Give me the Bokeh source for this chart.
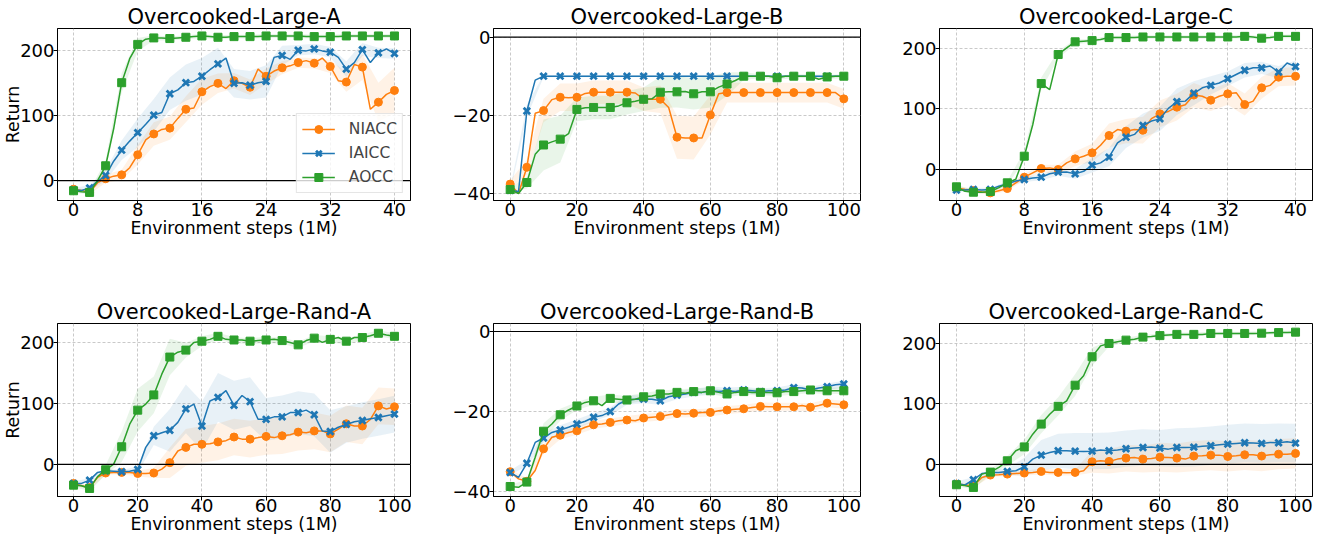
from bokeh.plotting import figure
from bokeh.models import FixedTicker, Range1d, Span, Legend, LegendItem
from bokeh.layouts import row, column
from bokeh.embed import file_html
from bokeh.resources import INLINE

# ---------------- data ----------------
SERIES = ["NIACC", "IAICC", "AOCC"]
COLORS = {"NIACC": "#ff7f0e", "IAICC": "#1f77b4", "AOCC": "#2ca02c"}
MARKERS = {"NIACC": "circle", "IAICC": "x", "AOCC": "square"}

X40 = [i * 1.0 for i in range(41)]          # steps (1M), 0..40
X100 = [i * 2.5 for i in range(41)]         # steps (1M), 0..100
XTICK40 = [0, 8, 16, 24, 32, 40]
XTICK100 = [0, 20, 40, 60, 80, 100]
YTICK_POS = [0, 100, 200]
YTICK_NEG = [-40, -20, 0]

TITLES = ["Overcooked-Large-A", "Overcooked-Large-B", "Overcooked-Large-C",
          "Overcooked-Large-Rand-A", "Overcooked-Large-Rand-B", "Overcooked-Large-Rand-C"]

# --- Overcooked-Large-A ---
A_NIACC = [-13, -15, -18, -3, 3, 7, 9, 20, 40, 63, 72, 79, 81, 96, 110, 112, 137, 145, 150, 142,
           154, 150, 144, 172, 161, 169, 174, 177, 182, 185, 181, 189, 176, 154, 152, 179, 175, 110,
           121, 133, 139]
A_IAICC = [-14, -15, -11, -1, 8, 30, 47, 61, 74, 87, 101, 105, 134, 140, 151, 153, 161, 171, 180,
           189, 150, 151, 147, 151, 153, 190, 193, 187, 201, 200, 203, 200, 198, 190, 172, 182, 202,
           182, 197, 203, 196]
A_AOCC = [-15.5, -17, -18, 0, 23, 80, 151, 188, 210, 218, 220, 220, 219, 220, 221, 222, 223, 222,
          221, 221, 222, 222, 222, 222, 223, 223, 223, 223, 223, 222, 222, 222, 222, 222, 223, 223,
          223, 223, 223, 223, 223]
A_NIACC_SD = [3, 3, 6, 8, 15, 18, 18, 20, 20, 15, 12, 12, 12, 10, 8, 8, 10, 15, 20, 30, 35]
A_IAICC_SD = [3, 4, 8, 15, 22, 25, 25, 28, 28, 25, 22, 22, 25, 15, 8, 8, 8, 12, 10, 8, 8]
A_AOCC_SD = [3, 3, 8, 15, 10, 4, 3, 3, 3, 3, 3, 3, 3, 3, 3, 3, 3, 3, 3, 3, 3]

# --- Overcooked-Large-B ---
B_NIACC = [-37.6, -40, -33.3, -19.5, -18.8, -16, -15.4, -15.5, -15.4, -14.4, -14.1, -14.1, -14.1,
           -14.1, -14.1, -14.3, -15.9, -15.9, -15.9, -18, -25.6, -25.8, -25.8, -25.8, -19.9, -14.5,
           -14.2, -14.2, -14.2, -14.2, -14.2, -14.2, -14.2, -14.2, -14.2, -14.2, -14.2, -14.2, -14.2,
           -14.2, -15.8]
B_IAICC = [-39.2, -39.5, -18.9, -11, -10, -10, -10, -10, -10, -10, -10, -10, -10, -10, -10, -10,
           -10, -10, -10, -10, -10, -10, -10, -10, -10, -10, -10, -10, -10, -10, -10, -10, -10, -10,
           -10, -10, -10, -10, -10, -10, -10]
B_AOCC = [-39, -40, -37.2, -30, -27.6, -26.8, -26.1, -24.7, -18.5, -18.1, -18, -18, -18, -17.6,
          -16.8, -16.4, -15.9, -15.8, -14.1, -14, -14, -13.9, -14.5, -14, -14, -12.8, -12, -11.1,
          -10, -10, -10, -10, -10.4, -10, -10, -10, -10, -10.8, -10.2, -10, -10]
B_NIACC_SD = [1, 2, 3, 3.5, 3.5, 3, 3, 3, 3, 3.5, 5.5, 5.5, 5, 2.5, 2.5, 2.5, 2.5, 2.5, 2.5, 2.5, 2.5]
B_IAICC_SD = [0.5, 1.5, 0.3, 0.3, 0.3, 0.3, 0.3, 0.3, 0.3, 0.3, 0.3, 0.3, 0.3, 0.3, 0.3, 0.3, 0.3,
              0.3, 0.3, 0.3, 0.3]
B_AOCC_SD = [0.5, 1.5, 6.5, 6, 3, 3, 3, 3, 3, 4, 4, 4, 4, 3, 1, 0.5, 0.5, 0.5, 0.5, 0.5, 0.5]

# --- Overcooked-Large-C ---
C_NIACC = [-30.3, -33, -34.7, -37, -38.6, -35, -31.4, -22, -12.7, -5.5, 1.7, 2.7, 0, 11, 17.6, 22,
           27.5, 40, 56.2, 66, 63.4, 66, 65, 84, 92, 96, 103, 107, 123, 121, 114.6, 121, 125, 127,
           107.4, 113, 135, 139, 152.6, 154, 154]
C_IAICC = [-34, -34, -33, -34, -33, -27.5, -23.7, -19, -16.5, -14, -12.7, -7, -4.4, -4, -7.2, -3,
           7.2, 11, 20.4, 44, 53.4, 58, 72.7, 80, 83.7, 101, 112, 113, 126, 135, 139, 143, 150, 157,
           164, 168, 168, 171, 161, 176, 170]
C_AOCC = [-28.6, -36, -37.5, -37.5, -36.4, -30, -22, -16, 22, 74, 142, 132, 190, 201, 211, 212, 213,
          215, 218, 218, 218, 218, 219, 219, 219, 219, 219, 219, 219, 219, 219, 219, 219, 219, 220,
          219, 217, 218, 220, 220, 220]
C_NIACC_SD = [3, 3, 3, 4, 5, 6, 8, 12, 15, 20, 20, 22, 22, 22, 20, 18, 18, 18, 18, 15, 15]
C_IAICC_SD = [3, 3, 3, 4, 4, 5, 6, 8, 12, 15, 18, 20, 20, 22, 20, 15, 12, 12, 10, 10, 10]
C_AOCC_SD = [4, 3, 3, 3, 8, 10, 6, 4, 3, 3, 3, 3, 3, 3, 3, 3, 3, 3, 3, 3, 3]

# --- Overcooked-Large-Rand-A ---
D_NIACC = [-31, -35, -37.7, -21, -14, -13, -13, -13, -14.8, -14.8, -14, -7.6, 3, 22, 28, 33, 33, 34,
           37, 39, 45, 41.5, 41.5, 44, 46, 44, 47, 48.6, 53, 52, 55, 55, 50, 58, 66.7, 63, 63, 74,
           96, 91, 94.5]
D_IAICC = [-31, -31, -25.7, -13, -10.4, -11, -12, -11, -8.2, 28, 47, 52, 56, 69, 91, 99, 63, 104,
           110, 121, 97, 113, 103, 74, 74, 78, 78, 85, 85, 89, 81.4, 55, 54, 61, 65.6, 70, 72, 75,
           77, 80, 82.5]
D_AOCC = [-33.9, -35, -39.3, -20, -8.7, 0.5, 29, 66, 89, 99, 114, 148, 176, 184, 187.4, 200, 202,
          205, 210, 205, 204, 204, 202, 203, 204, 205, 203, 200, 196, 203, 207, 200, 205, 208, 202,
          208, 208, 211, 215, 212, 210]
D_NIACC_SD = [3, 3, 3, 3, 5, 8, 25, 30, 30, 30, 30, 30, 30, 30, 30, 30, 30, 30, 30, 30, 30]
D_IAICC_SD = [3, 3, 3, 3, 5, 15, 35, 40, 40, 40, 40, 40, 35, 35, 35, 35, 35, 30, 30, 30, 30]
D_AOCC_SD = [3, 4, 8, 25, 35, 30, 30, 12, 8, 6, 5, 5, 5, 5, 5, 5, 5, 5, 5, 5, 5]

# --- Overcooked-Large-Rand-B ---
E_NIACC = [-35, -36.8, -37.4, -34.7, -29.3, -26.4, -25.9, -25.2, -24.8, -23.9, -23.3, -23.1, -22.7,
           -22.3, -22.1, -22.3, -21.6, -21.4, -21.2, -20.8, -20.5, -20.6, -20.4, -20.2, -20.2, -19.8,
           -19.6, -19.4, -19.3, -19, -18.7, -18.8, -18.8, -18.8, -18.8, -18.5, -18.9, -18.5, -17.9,
           -18.1, -18.3]
E_IAICC = [-35.2, -36.4, -32.9, -27.7, -26.6, -25.2, -24.6, -23.9, -23.1, -22.4, -21.4, -21, -20,
           -18.1, -17.1, -16.9, -16.9, -16.9, -17.3, -16.3, -15.9, -15.6, -15.2, -15.2, -14.8, -15,
           -14.8, -15, -14.6, -14.8, -15, -14.8, -14.8, -14.6, -14, -14.1, -14.6, -14.1, -13.8,
           -13.3, -13.1]
E_AOCC = [-38.7, -38.9, -37.6, -31.4, -24.9, -23.1, -20.8, -19.6, -18.6, -17.7, -17.3, -18.5, -16.7,
          -16.9, -17.1, -16.9, -16.3, -16.1, -15.6, -15.6, -15.2, -15.4, -15, -15.2, -14.8, -15.2,
          -15.6, -15.2, -15, -15.2, -15.2, -15.2, -15.3, -15, -15, -14.8, -14.6, -14.8, -14.8,
          -14.8, -14.8]
E_NIACC_SD = [0.5, 0.8, 1.2, 1, 1, 1, 1, 1, 1, 1, 1, 1, 1, 1, 1, 1, 1, 1, 1, 1, 1]
E_IAICC_SD = [0.5, 0.8, 1.2, 1.2, 1.2, 1, 1, 1.2, 1, 1, 1, 1, 1, 0.8, 0.8, 0.8, 0.8, 0.8, 0.8, 0.8, 0.8]
E_AOCC_SD = [0.5, 0.5, 2, 1.5, 1, 1, 1, 1, 1, 0.8, 0.8, 0.8, 0.8, 0.8, 0.8, 0.8, 0.8, 0.8, 0.8, 0.8, 0.8]

# --- Overcooked-Large-Rand-C ---
F_NIACC = [-32.5, -34, -35, -21.5, -17.6, -17, -16, -14.9, -14.3, -13.2, -11.6, -13.2, -13.2, -13.8,
           -13.2, -10.5, 4.4, 6, 5, 8.8, 10.5, 11.6, 8.8, 10, 12, 11.6, 10.5, 8.8, 13.8, 14.3, 15.4,
           15.4, 13.2, 14.3, 16, 16, 13.8, 16, 17, 17, 18.2]
F_IAICC = [-31.4, -34, -25.3, -15, -13.2, -13.2, -11.6, -10.5, -3.9, 8.8, 15.4, 19.8, 22.6, 22.6,
           22, 21.5, 22, 23.7, 22.6, 24, 26, 27, 28, 29, 27, 25.3, 28, 28, 28.6, 30, 30.9, 32.5,
           33.6, 34.7, 35.8, 35.3, 34.7, 36.4, 35.8, 37.5, 35.3]
F_AOCC = [-33.6, -35, -38, -16, -12.7, -5, 6, 22.6, 29, 50, 66.7, 83, 96, 105, 131, 146.6, 178, 196,
          200, 203, 205.5, 207, 210.5, 211.6, 213, 214, 215, 215, 215, 215, 216.5, 216.5, 216.5,
          216.5, 216.5, 216.5, 217, 217.6, 218, 218, 218.7]
F_NIACC_SD = [3, 3, 3, 3, 4, 5, 5, 5, 18, 20, 22, 22, 24, 24, 25, 25, 25, 25, 25, 25, 25]
F_IAICC_SD = [3, 4, 4, 5, 15, 25, 28, 30, 30, 30, 30, 30, 30, 32, 32, 32, 32, 32, 32, 32, 32]
F_AOCC_SD = [3, 3, 4, 8, 12, 15, 15, 18, 15, 5, 4, 4, 3, 3, 3, 3, 3, 3, 3, 3, 3]

PANELS = [
    (TITLES[0], X40, (A_NIACC, A_IAICC, A_AOCC), (A_NIACC_SD, A_IAICC_SD, A_AOCC_SD),
     (-2, 42), (-30.5, 234.5), XTICK40, YTICK_POS),
    (TITLES[1], X100, (B_NIACC, B_IAICC, B_AOCC), (B_NIACC_SD, B_IAICC_SD, B_AOCC_SD),
     (-5, 105), (-41.8, 2.2), XTICK100, YTICK_NEG),
    (TITLES[2], X40, (C_NIACC, C_IAICC, C_AOCC), (C_NIACC_SD, C_IAICC_SD, C_AOCC_SD),
     (-2, 42), (-51.2, 233), XTICK40, YTICK_POS),
    (TITLES[3], X100, (D_NIACC, D_IAICC, D_AOCC), (D_NIACC_SD, D_IAICC_SD, D_AOCC_SD),
     (-5, 105), (-52.5, 231), XTICK100, YTICK_POS),
    (TITLES[4], X100, (E_NIACC, E_IAICC, E_AOCC), (E_NIACC_SD, E_IAICC_SD, E_AOCC_SD),
     (-5, 105), (-41.2, 2.0), XTICK100, YTICK_NEG),
    (TITLES[5], X100, (F_NIACC, F_IAICC, F_AOCC), (F_NIACC_SD, F_IAICC_SD, F_AOCC_SD),
     (-5, 105), (-53, 233), XTICK100, YTICK_POS),
]

FONT = "DejaVu Sans"
TITLE_SIZE = "21px"
TICK_SIZE = "18px"
LABEL_SIZE = "17.3px"
LEGEND_SIZE = "15.5px"

# layout geometry (px): per column (left border, frame width, right border)
COLS = [(53, 353, 33), (50, 367, 29), (50, 373, 2)]
ROWS = [(28, 172, 95), (28, 173, 30)]


def make_panel(idx, spec):
    title, xs, ys, sds, xr, yr, xt, yt = spec
    r, c = divmod(idx, 3)
    ml, fw, mr = COLS[c]
    mt, fh, mb = ROWS[r]
    p = figure(x_range=Range1d(*xr), y_range=Range1d(*yr), frame_width=fw, frame_height=fh,
               min_border_left=ml, min_border_right=mr, min_border_top=mt, min_border_bottom=mb,
               output_backend="svg", toolbar_location=None)
    p.title.text = title
    p.title.text_font = FONT
    p.title.text_font_size = TITLE_SIZE
    p.title.text_font_style = "normal"
    p.title.text_color = "black"
    p.title.align = "center"
    p.title.vertical_align = "middle"
    p.title.standoff = -2
    p.outline_line_color = "black"
    p.outline_line_width = 1
    p.outline_line_alpha = 1
    p.background_fill_color = "white"
    p.border_fill_color = "white"

    p.xaxis.ticker = FixedTicker(ticks=xt)
    p.yaxis.ticker = FixedTicker(ticks=yt)
    p.yaxis.major_label_overrides = {t: ("\u2212" + str(abs(t)) if t < 0 else str(t)) for t in yt}
    for ax in (p.xaxis[0], p.yaxis[0]):
        ax.major_label_text_font = FONT
        ax.major_label_text_font_size = TICK_SIZE
        ax.major_label_text_color = "black"
        ax.minor_tick_line_color = None
        ax.major_tick_in = 0
        ax.major_tick_out = 4
        ax.major_tick_line_color = "black"
        ax.axis_line_color = "black"
        ax.axis_label_text_font = FONT
        ax.axis_label_text_font_size = LABEL_SIZE
        ax.axis_label_text_font_style = "normal"
        ax.axis_label_text_color = "black"
    p.xaxis.major_label_standoff = -2
    p.xaxis.axis_label_standoff = -1
    p.yaxis.major_label_standoff = -1
    p.yaxis.axis_label_standoff = -6
    p.xaxis.axis_label = "Environment steps (1M)"
    if c == 0:
        p.yaxis.axis_label = "Return"

    p.grid.grid_line_color = "#bbbbbb"
    p.grid.grid_line_dash = "3 2"
    p.grid.grid_line_width = 0.8

    p.add_layout(Span(location=0, dimension="width", line_color="black", line_width=1.2))

    bx = xs[::2]
    items = []
    for name, y, sd in zip(SERIES, ys, sds):
        col = COLORS[name]
        ym = y[::2]
        lo = [m - s for m, s in zip(ym, sd)]
        hi = [m + s for m, s in zip(ym, sd)]
        p.varea(x=bx, y1=lo, y2=hi, fill_color=col, fill_alpha=0.1)
    for name, y in zip(SERIES, ys):
        col = COLORS[name]
        ln = p.line(xs, y, line_color=col, line_width=1.5)
        if MARKERS[name] == "x":
            sc = p.scatter(xs[::2], y[::2], marker="x", size=9, line_color=col, line_width=2.8)
        else:
            sc = p.scatter(xs[::2], y[::2], marker=MARKERS[name], size=8,
                           fill_color=col, line_color=col)
        items.append(LegendItem(label=name, renderers=[ln, sc]))

    if idx == 0:
        lg = Legend(items=items, location="bottom_right")
        lg.label_text_font = FONT
        lg.label_text_font_size = LEGEND_SIZE
        lg.label_standoff = 14
        lg.glyph_width = 33
        lg.glyph_height = 20
        lg.label_height = 20
        lg.spacing = 4
        lg.padding = 5
        lg.margin = 7
        lg.border_line_color = "#cccccc"
        lg.border_line_width = 1
        lg.background_fill_alpha = 0.8
        p.add_layout(lg)
    return p


figs = [make_panel(i, s) for i, s in enumerate(PANELS)]
layout = column(row(*figs[:3]), row(*figs[3:]))

open("out.html", "w").write(file_html(layout, INLINE))
